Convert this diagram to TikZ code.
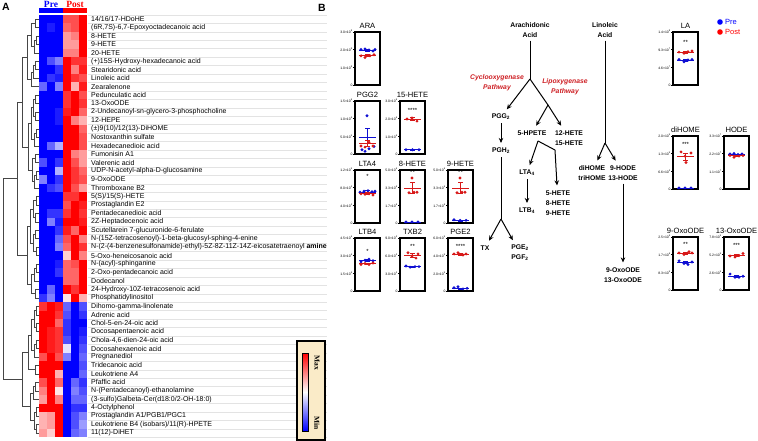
\documentclass[tikz,border=0pt]{standalone}
\usepackage{fontspec}
\setmainfont{Liberation Sans}
\newfontfamily\serifbf{Liberation Serif}
\usepackage{tikz}
\usetikzlibrary{arrows.meta,positioning,calc}

\definecolor{HmRed}{RGB}{255,0,0}
\definecolor{HmBlue}{RGB}{0,0,255}
\definecolor{PreCol}{RGB}{15,15,210}
\definecolor{PostCol}{RGB}{215,25,25}
\definecolor{PathRed}{RGB}{205,30,35}
\definecolor{KeyFill}{RGB}{250,235,200}

% one clade of the dendrogram: name, child, child, x of the join
\newcommand{\Clade}[4]{%
  \path ($(#2)!0.5!(#3)$) coordinate (tmpmid);
  \coordinate (#1) at (tmpmid -| #4,0);
  \draw[Tree] (#2) -| (#4,0 |- #3) -- (#3);}

\newcommand{\Sci}[2]{#1×10\textsuperscript{#2}}

% small dot plot: name, title, x, y, star height, stars, ticks
\newcommand{\MiniPlot}[7]{%
  \node[PlotBox] (#1) at (#3,#4) {};
  \node[PlotTitle] (#1t) at (#1.north) {#2};
  \begin{scope}[shift={(#1.south west)},x=1pt,y=53pt]
    \foreach \f/\t [count=\k] in {#7}
      \draw[line width=.4pt] (0,\f) -- (-1.8,\f) node[TickLab] (#1k\k) {\t};
    \node[Stars] (#1s) at (12.5,#5) {#6};
  \end{scope}}

% one group of dots: plot, colour, mean, error, dots
\newcommand{\PlotDots}[5]{%
  \begin{scope}[shift={(#1.south west)},x=1pt,y=53pt]
    \draw[#2,line width=.6pt] (4,#3) -- (21,#3);
    \draw[#2,line width=.5pt] (12.5,#3-#4) -- (12.5,#3+#4)
      (10,#3-#4) -- (15,#3-#4) (10,#3+#4) -- (15,#3+#4);
    \foreach \dx/\f in {#5} \fill[#2] (\dx,\f) circle[radius=1.6pt];
  \end{scope}}

\begin{document}
\begin{tikzpicture}[x=1pt,y=-1pt]
	\tikzstyle{Tree}      = [draw=gray!55!black, line width=.45pt]
	\tikzstyle{Label}     = [anchor=west, inner sep=0pt, font=\fontsize{7}{7}\selectfont]
	\tikzstyle{Sep}       = [gray!22, line width=.3pt]
	\tikzstyle{Head}      = [inner sep=0pt, font=\serifbf\bfseries\fontsize{9.5}{9.5}\selectfont]
	\tikzstyle{KeyText}   = [inner sep=0pt, rotate=-90, font=\serifbf\bfseries\fontsize{7.5}{7.5}\selectfont]
	\tikzstyle{Panel}     = [inner sep=0pt, font=\bfseries\fontsize{10.5}{10.5}\selectfont]
	\tikzstyle{Metab}     = [align=center, inner sep=3pt, font=\bfseries\fontsize{6.8}{10}\selectfont]
	\tikzstyle{Route}     = [Metab, text=PathRed, font=\bfseries\itshape\fontsize{6.8}{10}\selectfont]
	\tikzstyle{Line}      = [line width=1pt]
	\tikzstyle{Arr}       = [line width=1pt, shorten >=2pt, -{Stealth[length=5pt,width=4.5pt]}]
	\tikzstyle{PlotBox}   = [draw, line width=1.4pt, minimum width=25pt, minimum height=53pt, inner sep=0pt, outer sep=0pt, anchor=north west]
	\tikzstyle{PlotTitle} = [anchor=south, inner sep=0pt, yshift=3pt, font=\fontsize{7.6}{7.6}\selectfont]
	\tikzstyle{TickLab}   = [anchor=east, inner sep=.4pt, font=\fontsize{3.4}{3.4}\selectfont]
	\tikzstyle{Stars}     = [inner sep=0pt, font=\fontsize{6}{6}\selectfont]
	\tikzstyle{KeyLab}    = [anchor=west, inner sep=0pt, font=\fontsize{7.5}{7.5}\selectfont]

	\useasboundingbox (0,0) rectangle (758,441);

	% panel A: heat map
	\node[Panel] (pa) at (6,7) {A};
	\node[Head, text=HmBlue] (hpre) at (51,4.5) {Pre};
	\node[Head, text=HmRed] (hpost) at (75,4.5) {Post};
	\fill[HmBlue] (39,8.5) rectangle (63,13);
	\fill[HmRed] (63,8.5) rectangle (87,13);

	\foreach \r/\vals in {
		1/{-1,-1,-1,.7,.7,1}, 2/{-1,-.9,-1,.6,.7,1}, 3/{-1,-1,-1,.4,.5,1},
		4/{-1,-1,-1,.4,.4,1}, 5/{-1,-1,-1,.5,.5,1}, 6/{-1,-.7,-.5,1,.8,.8},
		7/{-1,-1,-.8,1,.5,.9}, 8/{-1,-.8,-.9,1,.8,.7}, 9/{-.6,-1,-.5,1,.3,.9},
		10/{-1,-1,-1,.8,1,.7}, 11/{-1,-1,-1,.8,1,.8}, 12/{-1,-1,-.9,.9,1,.6},
		13/{-1,-1,-.9,1,.5,.3}, 14/{-1,-1,-1,1,1,.6}, 15/{-1,-1,-1,1,1,.7},
		16/{-1,-.6,-.3,1,1,.7}, 17/{-1,-1,-1,1,.5,.4}, 18/{-.7,-1,-.8,1,.7,.4},
		19/{-1,-1,-.3,1,.8,.6}, 20/{-.5,-1,-.8,1,.8,.7}, 21/{-1,-.8,-.7,1,.7,.4},
		22/{-1,-1,-1,.8,.8,1}, 23/{-1,-1,-1,.7,1,.9}, 24/{-1,-.8,-.8,.8,1,.8},
		25/{-1,-.5,-.9,1,1,.9}, 26/{-1,-1,-.8,.9,.6,1}, 27/{-1,-1,-.6,.7,1,.5},
		28/{-1,-1,-.5,.6,1,.8}, 29/{-1,-1,-1,.2,1,.5}, 30/{-1,-1,-.9,.6,.7,1},
		31/{-1,-1,-.8,.6,.6,1}, 32/{-1,-1,-1,.6,.6,1}, 33/{-1,-.6,-1,1,.8,1},
		34/{-.8,-.5,-1,.1,1,.3}, 35/{.8,1,.9,-.6,-1,-.7}, 36/{1,1,.8,-.7,-1,-.8},
		37/{1,1,.6,-.8,-1,-1}, 38/{1,.9,.8,-.8,-1,-.9}, 39/{1,.9,.8,-.7,-1,-.8},
		40/{1,.9,.8,-.1,-1,-.7}, 41/{.7,1,.7,-.5,-1,-.6}, 42/{1,1,1,-1,-1,-.7},
		43/{1,1,.3,-1,-1,-.6}, 44/{.7,1,.6,-1,-.6,-.8}, 45/{.5,1,.1,-1,-.5,-.7},
		46/{.4,1,.5,-1,-.6,-.6}, 47/{1,1,1,-1,-.8,-.8}, 48/{.3,.4,1,-1,-.7,-.5},
		49/{.3,.4,1,-1,-.7,-.4}, 50/{.4,.2,1,-1,-.6,-.5}}{
		\foreach \v [count=\c] in \vals {
			\pgfmathsetmacro\xl{39+(\c-1)*8}
			\pgfmathsetmacro\yt{14.8+(\r-1)*8.45}
			\pgfmathtruncatemacro\pct{abs(\v)*100}
			\ifdim \v pt<0pt \def\hue{HmBlue}\else\def\hue{HmRed}\fi
			\fill[\hue!\pct!white] (\xl,\yt) rectangle ++(8.05,8.5);
		}
	}

	\foreach \i in {0,...,50}
		\draw[Sep] (88,{14.8+\i*8.45}) -- (327,{14.8+\i*8.45});

	\foreach \t [count=\i] in {
		{14/16/17-HDoHE}, {(6R,7S)-6,7-Epoxyoctadecanoic acid}, {8-HETE}, {9-HETE}, {20-HETE},
		{(+)15S-Hydroxy-hexadecanoic acid}, {Stearidonic acid}, {Linoleic acid}, {Zearalenone},
		{Pedunculatic acid}, {13-OxoODE}, {2-Undecanoyl-sn-glycero-3-phosphocholine}, {12-HEPE},
		{(±)9(10)/12(13)-DiHOME}, {Nostoxanthin sulfate}, {Hexadecanedioic acid}, {Fumonisin A1},
		{Valerenic acid}, {UDP-N-acetyl-alpha-D-glucosamine}, {9-OxoODE}, {Thromboxane B2},
		{5(S)/15(S)-HETE}, {Prostaglandin E2}, {Pentadecanedioic acid}, {2Z-Heptadecenoic acid},
		{Scutellarein 7-glucuronide-6-ferulate}, {N-(15Z-tetracosenoyl)-1-beta-glucosyl-sphing-4-enine},
		{N-(2-(4-benzenesulfonamide)-ethyl)-5Z-8Z-11Z-14Z-eicosatetraenoyl \textbf{amine}},
		{5-Oxo-heneicosanoic acid}, {N-(acyl)-sphinganine}, {2-Oxo-pentadecanoic acid}, {Dodecanol},
		{24-Hydroxy-10Z-tetracosenoic acid}, {Phosphatidylinositol}, {Dihomo-gamma-linolenate},
		{Adrenic acid}, {Chol-5-en-24-oic acid}, {Docosapentaenoic acid}, {Chola-4,6-dien-24-oic acid},
		{Docosahexaenoic acid}, {Pregnanediol}, {Tridecanoic acid}, {Leukotriene A4}, {Pfaffic acid},
		{N-(Pentadecanoyl)-ethanolamine}, {(3-sulfo)Galbeta-Cer(d18:0/2-OH-18:0)}, {4-Octylphenol},
		{Prostaglandin A1/PGB1/PGC1}, {Leukotriene B4 (isobars)/11(R)-HPETE}, {11(12)-DiHET}}
		\node[Label] (lab\i) at (91,{19+(\i-1)*8.45}) {\t};

	% dendrogram
	\foreach \i in {1,...,50}
		\coordinate (r\i) at (39,{19+(\i-1)*8.45});
	\foreach \n/\a/\b/\x in {
		ca/r1/r2/35, cb/r3/r4/36, cc/cb/r5/34, cd/ca/cc/31,
		ce/r6/r7/35, cf/ce/r8/33, cg/r9/cf/31, ch/cd/cg/27,
		ci/r10/r11/35, cj/r12/r13/35, ck/ci/cj/33, cl/r14/r15/36, cm/cl/r16/34, cn/ck/cm/31,
		co/r17/r18/35, cp/r19/r20/36, cq/cp/r21/34, cr/co/cq/32, cs/cn/cr/28,
		ct/ch/cs/22,
		cu/r22/r23/36, cv/r24/r25/35, cw/cu/cv/33,
		cx/r26/r27/35, cy/r28/r29/36, cz/cx/cy/33, da/cw/cz/30,
		db/r30/r31/36, dc/db/r32/34, dd/r33/r34/35, de/dc/dd/31, df/da/de/27,
		dg/ct/df/17,
		dh/r35/r36/36, di/r37/r38/36, dj/dh/di/34, dk/r39/r40/36, dl/dk/r41/34, dm/dj/dl/31,
		dn/r42/r43/35, dp/dm/dn/28,
		dq/r44/r45/35, dr/dq/r46/33, ds/r47/r48/36, dt/r49/r50/36, du/ds/dt/34, dv/dr/du/30,
		dw/dp/dv/22,
		root/dg/dw/3}
		\Clade{\n}{\a}{\b}{\x};

	% colour key
	\draw[line width=1.6pt, fill=KeyFill] (297,341) rectangle (325,440);
	\shade[top color=HmRed, bottom color=HmBlue, middle color=white] (302,353) rectangle (308,431);
	\draw[line width=.4pt] (302,353) rectangle (308,431);
	\node[KeyText] (kmax) at (317,363) {Max};
	\node[KeyText] (kmin) at (317,423) {Min};

	% panel B: pathways
	\node[Panel] (pb) at (322,8) {B};
	\node[Metab] (ara) at (530,30) {Arachidonic\\Acid};
	\node[Metab] (lin) at (605,30) {Linoleic\\Acid};
	\node[Route] (cox) at (497,83) {Cyclooxygenase\\Pathway};
	\node[Route] (lox) at (565,87) {Lipoxygenase\\Pathway};
	\node[Metab] (pgg) at (501,117) {PGG\textsubscript{2}};
	\node[Metab] (pgh) at (501,151) {PGH\textsubscript{2}};
	\node[Metab] (hpete) at (532,133) {5-HPETE};
	\node[Metab] (hete12) at (569,138) {12-HETE\\15-HETE};
	\node[Metab] (lta) at (527,173) {LTA\textsubscript{4}};
	\node[Metab] (ltb) at (527,211) {LTB\textsubscript{4}};
	\node[Metab] (hete5) at (558,203) {5-HETE\\8-HETE\\9-HETE};
	\node[Metab] (tx) at (485,248) {TX};
	\node[Metab] (pge) at (520,253) {PGE\textsubscript{2}\\PGF\textsubscript{2}};
	\node[Metab] (dihome) at (592,173) {diHOME\\triHOME};
	\node[Metab] (hode) at (623,173) {9-HODE\\13-HODE};
	\node[Metab] (oxo) at (623,275) {9-OxoODE\\13-OxoODE};
	\coordinate (araB) at (530,79);
	\coordinate (loxB) at (548,105);
	\coordinate (hpA) at (538,141);
	\coordinate (hpC) at (555,150);
	\coordinate (pghB) at (501,219);
	\coordinate (linB) at (605,143);

	\draw[Line] (ara) -- (araB);
	\draw[Arr] (araB) -- (pgg);
	\draw[Line] (araB) -- (loxB);
	\draw[Arr] (loxB) -- (hpete);
	\draw[Arr] (loxB) -- (hete12);
	\draw[Arr] (pgg) -- (pgh);
	\draw[Line] (pgh) -- (pghB);
	\draw[Arr] (pghB) -- (tx);
	\draw[Arr] (pghB) -- (pge);
	\draw[Line] (hpA) -- (hpC);
	\draw[Arr] (hpC) -- (hete5);
	\draw[Arr] (hpA) -- (lta);
	\draw[Arr] (lta) -- (ltb);
	\draw[Line] (lin) -- (linB);
	\draw[Arr] (linB) -- (dihome);
	\draw[Arr] (linB) -- (hode);
	\draw[Arr] (hode) -- (oxo);

	% dot plots
	\MiniPlot{ara p}{ARA}{355}{32}{.9}{}{1/\Sci{3.0}{8}, .667/\Sci{2.0}{8}, .333/\Sci{1.0}{8}, 0/0}
	\PlotDots{ara p}{PreCol}{.65}{.02}{6/.67, 10/.68, 14/.66, 18/.64, 20/.67}
	\PlotDots{ara p}{PostCol}{.56}{.02}{6/.55, 10/.52, 15/.55, 19/.57}

	\MiniPlot{pgg p}{PGG2}{355}{101}{.9}{}{1/\Sci{1.5}{6}, .667/\Sci{1.0}{6}, .333/\Sci{5.0}{5}, 0/0}
	\PlotDots{pgg p}{PreCol}{.32}{.17}{12/.72, 7/.08, 14/.1, 19/.14, 10/.05}
	\PlotDots{pgg p}{PostCol}{.2}{.06}{6/.15, 10/.13, 14/.22, 18/.15}

	\MiniPlot{hete15 p}{15-HETE}{400}{101}{.82}{****}{1/\Sci{3.0}{6}, .667/\Sci{2.0}{6}, .333/\Sci{1.0}{6}, 0/0}
	\PlotDots{hete15 p}{PostCol}{.66}{.03}{7/.66, 12/.68, 17/.62}
	\PlotDots{hete15 p}{PreCol}{.08}{0}{6/.08, 12.5/.08, 19/.08}

	\MiniPlot{lta p}{LTA4}{355}{170}{.88}{*}{1/\Sci{1.2}{5}, .667/\Sci{8.0}{4}, .333/\Sci{4.0}{4}, 0/0}
	\PlotDots{lta p}{PreCol}{.58}{.03}{5/.58, 9/.6, 13/.61, 17/.59, 20/.6}
	\PlotDots{lta p}{PostCol}{.56}{.02}{6/.55, 10/.54, 14/.55, 18/.53}

	\MiniPlot{hete8 p}{8-HETE}{400}{170}{.95}{**}{1/\Sci{5.0}{6}, .667/\Sci{3.3}{6}, .333/\Sci{1.7}{6}, 0/0}
	\PlotDots{hete8 p}{PostCol}{.66}{.1}{12/.85, 9/.57, 14/.58, 17/.58}
	\PlotDots{hete8 p}{PreCol}{.02}{0}{6/.02, 12/.02, 18/.02}

	\MiniPlot{hete9 p}{9-HETE}{448}{170}{.95}{**}{1/\Sci{5.0}{6}, .667/\Sci{3.3}{6}, .333/\Sci{1.7}{6}, 0/0}
	\PlotDots{hete9 p}{PostCol}{.66}{.1}{12/.85, 9/.57, 14/.58, 17/.58}
	\PlotDots{hete9 p}{PreCol}{.05}{.01}{6/.06, 12/.05, 18/.05}

	\MiniPlot{ltb p}{LTB4}{355}{238}{.75}{*}{1/\Sci{4.5}{6}, .667/\Sci{3.0}{6}, .333/\Sci{1.5}{6}, 0/0}
	\PlotDots{ltb p}{PreCol}{.58}{.02}{6/.55, 10/.58, 14/.6, 18/.57}
	\PlotDots{ltb p}{PostCol}{.52}{.01}{6/.5, 10/.52, 14/.5, 18/.53}

	\MiniPlot{txb p}{TXB2}{400}{238}{.84}{**}{1/\Sci{9.0}{4}, .667/\Sci{6.0}{4}, .333/\Sci{3.0}{4}, 0/0}
	\PlotDots{txb p}{PostCol}{.68}{.04}{8/.72, 12/.66, 16/.62, 18/.7}
	\PlotDots{txb p}{PreCol}{.46}{.01}{6/.47, 10/.45, 15/.46, 19/.46}

	\MiniPlot{pge p}{PGE2}{448}{238}{.85}{****}{1/\Sci{6.0}{5}, .667/\Sci{4.0}{5}, .333/\Sci{2.0}{5}, 0/0}
	\PlotDots{pge p}{PostCol}{.7}{.02}{6/.7, 10/.72, 15/.68, 18/.7}
	\PlotDots{pge p}{PreCol}{.05}{.01}{6/.06, 10/.08, 15/.04, 19/.05}

	\MiniPlot{la p}{LA}{673}{32}{.8}{**}{1/\Sci{1.4}{8}, .667/\Sci{9.3}{7}, .333/\Sci{4.6}{7}, 0/0}
	\PlotDots{la p}{PostCol}{.62}{.02}{6/.62, 11/.6, 15/.63, 19/.64}
	\PlotDots{la p}{PreCol}{.47}{.02}{6/.48, 11/.44, 15/.47, 19/.48}

	\MiniPlot{dihome p}{diHOME}{673}{136}{.85}{***}{1/\Sci{2.0}{5}, .667/\Sci{1.3}{5}, .333/\Sci{6.6}{4}, 0/0}
	\PlotDots{dihome p}{PostCol}{.61}{.06}{8/.7, 12/.62, 13/.5, 18/.68}
	\PlotDots{dihome p}{PreCol}{.02}{0}{6/.02, 12/.02, 18/.02}

	\MiniPlot{hode p}{HODE}{724}{136}{.9}{}{1/\Sci{3.3}{7}, .667/\Sci{2.2}{7}, .333/\Sci{1.1}{7}, 0/0}
	\PlotDots{hode p}{PreCol}{.65}{.01}{6/.66, 10/.67, 14/.65, 18/.66}
	\PlotDots{hode p}{PostCol}{.63}{.01}{6/.63, 10/.6, 15/.62, 19/.63}

	\MiniPlot{oxo9 p}{9-OxoODE}{673}{237}{.86}{**}{1/\Sci{2.5}{6}, .667/\Sci{1.7}{6}, .333/\Sci{8.3}{5}, 0/0}
	\PlotDots{oxo9 p}{PostCol}{.7}{.02}{6/.7, 11/.67, 16/.72, 19/.7}
	\PlotDots{oxo9 p}{PreCol}{.52}{.02}{6/.55, 11/.5, 15/.48, 19/.53}

	\MiniPlot{oxo13 p}{13-OxoODE}{724}{237}{.84}{***}{1/\Sci{7.8}{5}, .667/\Sci{5.2}{5}, .333/\Sci{2.6}{5}, 0/0}
	\PlotDots{oxo13 p}{PostCol}{.65}{.02}{6/.64, 11/.62, 15/.65, 19/.69}
	\PlotDots{oxo13 p}{PreCol}{.26}{.02}{6/.3, 11/.24, 15/.24, 19/.26}

	% legend
	\fill[HmBlue] (720,22) circle[radius=2.8pt];
	\fill[HmRed] (720,32) circle[radius=2.8pt];
	\node[KeyLab, text=HmBlue] (kpre) at (725,22) {Pre};
	\node[KeyLab, text=HmRed] (kpost) at (725,32) {Post};
\end{tikzpicture}
\end{document}
